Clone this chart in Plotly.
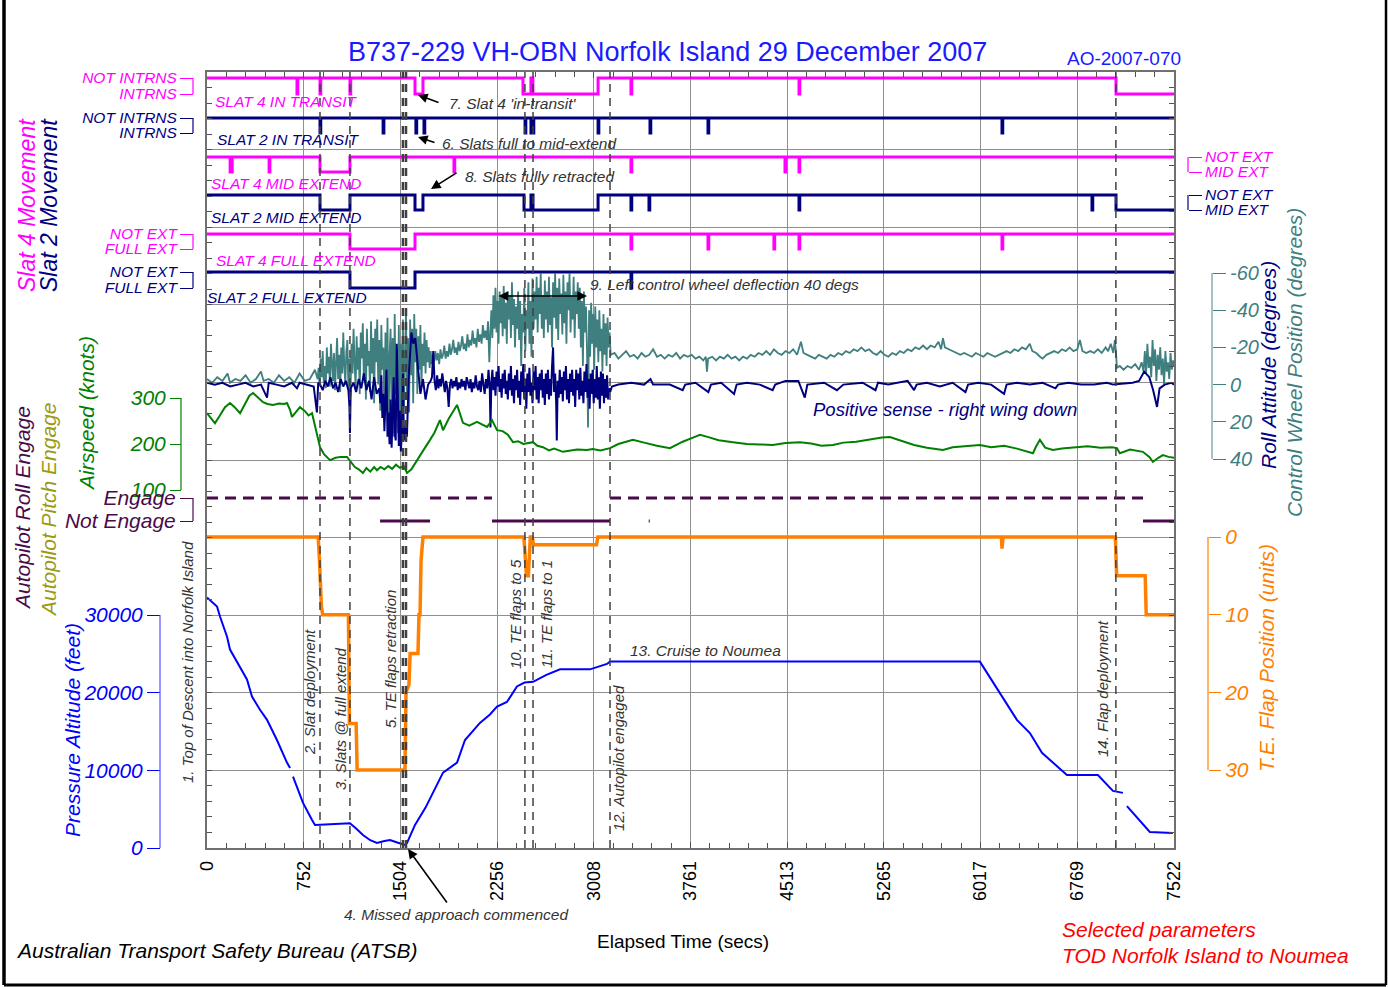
import plotly.graph_objects as go

# ---------------- data ----------------
x_tick_vals = [0, 752.2, 1504.4, 2256.6, 3008.8, 3761, 4513.2, 5265.4, 6017.6, 6769.8, 7522]
x_tick_text = ["0", "752", "1504", "2256", "3008", "3761", "4513", "5265", "6017", "6769", "7522"]

# slat discrete states: 1 = NOT (upper level), 0 = active (lower level); (time, state) step points
slat4_transit = [(0, 1), (700, 0), (706, 1), (879, 0), (885, 1), (1112, 0), (1118, 1), (1618, 0), (1680, 1),
                 (2458, 0), (2520, 1), (2535, 0), (3042, 1), (3298, 0), (3304, 1), (4605, 0), (4611, 1),
                 (7071, 0), (7522, 0)]
slat2_transit = [(0, 1), (879, 0), (885, 1), (1370, 0), (1376, 1), (1625, 0), (1631, 1), (1688, 0), (1694, 1),
                 (2474, 0), (2480, 1), (2520, 0), (2526, 1), (2536, 0), (2542, 1), (3042, 0), (3048, 1),
                 (3446, 0), (3452, 1), (3897, 0), (3903, 1), (6184, 0), (6190, 1), (7522, 1)]
slat4_mid = [(0, 1), (180, 0), (196, 1), (483, 0), (489, 1), (879, 0), (1112, 1), (1921, 0), (1927, 1),
             (3298, 0), (3304, 1), (4496, 0), (4502, 1), (4605, 0), (4611, 1), (7522, 1)]
slat2_mid = [(0, 1), (879, 0), (1112, 1), (1618, 0), (1680, 1), (2466, 0), (2520, 1), (2536, 0), (3042, 1),
             (3298, 0), (3304, 1), (3438, 0), (3444, 1), (4605, 0), (4611, 1), (6884, 0), (6890, 1),
             (7071, 0), (7522, 0)]
slat4_full = [(0, 1), (1112, 0), (1618, 1), (3298, 0), (3304, 1), (3897, 0), (3903, 1), (4410, 0), (4416, 1),
              (4605, 0), (4611, 1), (6184, 0), (6190, 1), (7522, 1)]
slat2_full = [(0, 1), (1112, 0), (1618, 1), (3298, 0), (3304, 1), (7522, 1)]

# control wheel position (deg, positive = right wing down)
control_wheel = [
    (0, -3), (40, -1), (80, -4), (120, -2), (160, -6), (180, -1), (220, -3), (260, -2), (300, -5), (340, -1),
    (380, -3), (420, -7), (440, -2), (480, -3), (520, -1), (560, -5), (600, -2), (640, -4), (680, -1),
    (720, -6), (760, -2), (800, -3), (840, -8), (860, -3), (868, -9), (876, 1), (884, -14), (892, -4),
    (900, -18), (908, -1), (916, -10), (924, 2), (932, -20), (940, -6), (948, -15), (956, 1), (964, -22),
    (972, -8), (980, -2), (988, -17), (996, 3), (1004, -12), (1012, -25), (1020, -3), (1028, -16), (1036, 4),
    (1044, -20), (1052, -6), (1060, -28), (1068, -10), (1076, 0), (1084, -18), (1092, -24), (1100, 3),
    (1108, -14), (1116, 6), (1124, -22), (1132, -6), (1140, -30), (1148, -12), (1156, 2), (1164, -26),
    (1172, -8), (1180, -20), (1188, 5), (1196, -28), (1204, -14), (1212, -33), (1220, -2), (1228, -22),
    (1236, 8), (1244, -30), (1252, -10), (1260, -18), (1268, 4), (1276, -34), (1284, -6), (1292, -25),
    (1300, 10), (1308, -30), (1316, -12), (1324, -35), (1332, 0), (1340, -24), (1348, 14), (1356, -32),
    (1364, -8), (1372, -20), (1380, 20), (1388, -28), (1396, 8), (1404, -36), (1412, 25), (1420, -15),
    (1428, -30), (1436, 18), (1444, -25), (1452, 28), (1460, -38), (1468, 5), (1476, -20), (1484, 26),
    (1492, -32), (1500, 15), (1508, -22), (1516, 30), (1524, -35), (1532, 12), (1540, -28), (1548, -40),
    (1556, 8), (1564, -25), (1572, 15), (1580, -35), (1588, -5), (1596, -30), (1604, 10), (1612, -38),
    (1620, -12), (1628, -30), (1636, 5), (1644, -26), (1652, -8), (1660, -32), (1668, 0), (1676, -22),
    (1684, -10), (1692, -28), (1700, -6), (1708, -24), (1716, -12), (1724, -20), (1732, -9), (1740, -18),
    (1748, -11), (1756, -16), (1766, -12), (1776, -18), (1786, -13), (1796, -17), (1806, -11), (1816, -19),
    (1826, -14), (1836, -16), (1846, -21), (1856, -14), (1866, -18), (1876, -15), (1886, -22), (1896, -16),
    (1906, -19), (1916, -24), (1926, -17), (1936, -20), (1946, -16), (1956, -23), (1966, -18), (1976, -21),
    (1986, -26), (1996, -19), (2006, -22), (2016, -18), (2026, -27), (2036, -20), (2046, -24), (2056, -21),
    (2066, -29), (2076, -22), (2086, -25), (2096, -20), (2106, -30), (2116, -23), (2126, -27), (2136, -22),
    (2146, -32), (2156, -25), (2166, -29), (2176, -24), (2186, -34), (2196, -12), (2204, -28), (2212, -40),
    (2220, -25), (2228, -48), (2236, -30), (2244, -52), (2252, -28), (2260, -45), (2268, -22), (2276, -50),
    (2284, -33), (2292, -47), (2300, -26), (2308, -53), (2316, -30), (2324, -44), (2332, -22), (2340, -50),
    (2348, -35), (2356, -48), (2364, -25), (2372, -55), (2380, -32), (2388, -46), (2396, -20), (2404, -42),
    (2412, -30), (2420, -50), (2428, -24), (2436, -45), (2444, -10), (2452, -38), (2460, -28), (2468, -52),
    (2476, -18), (2484, -40), (2492, -30), (2500, -55), (2508, -22), (2516, -45), (2524, -15), (2532, -57),
    (2540, -30), (2548, -50), (2556, -35), (2564, -58), (2572, -28), (2580, -52), (2588, -38), (2596, -60),
    (2604, -30), (2612, -48), (2620, -25), (2628, -56), (2636, -35), (2644, -50), (2652, -28), (2660, -58),
    (2668, -32), (2676, -47), (2684, -20), (2692, -55), (2700, -36), (2708, -60), (2716, -30), (2724, -52),
    (2732, -24), (2740, -57), (2748, -38), (2756, -49), (2764, -27), (2772, -59), (2780, -33), (2788, -50),
    (2796, -22), (2804, -55), (2812, -40), (2820, -60), (2828, -28), (2836, -48), (2844, -35), (2852, -58),
    (2860, -25), (2868, -50), (2876, -38), (2884, -55), (2892, -30), (2900, -52), (2908, -20), (2916, -45),
    (2924, -10), (2932, -50), (2940, -28), (2948, -42), (2956, -18), (2964, 23), (2972, -40), (2980, -15),
    (2988, -44), (2996, -22), (3004, -38), (3012, -8), (3020, -42), (3028, -20), (3036, -35), (3044, -12),
    (3052, -40), (3060, -18), (3068, -30), (3076, -7), (3084, -38), (3092, -16), (3100, -33), (3108, -10),
    (3116, -36), (3124, -20), (3132, -28), (3140, -16), (3170, -17), (3200, -14), (3230, -16), (3260, -18),
    (3290, -15), (3320, -16), (3350, -14), (3380, -17), (3410, -15), (3440, -16), (3470, -19), (3500, -15),
    (3530, -16), (3560, -14), (3590, -16), (3620, -15), (3650, -17), (3680, -14), (3710, -16), (3740, -15),
    (3770, -16), (3800, -14), (3830, -15), (3860, -13), (3880, -15), (3889, -7), (3898, -14), (3930, -15),
    (3960, -13), (3990, -15), (4020, -14), (4050, -16), (4080, -14), (4110, -15), (4140, -13), (4170, -15),
    (4200, -14), (4230, -16), (4260, -15), (4290, -17), (4320, -16), (4350, -18), (4380, -16), (4410, -19),
    (4440, -17), (4470, -16), (4500, -18), (4530, -17), (4560, -19), (4590, -16), (4620, -23), (4640, -17),
    (4670, -16), (4700, -15), (4730, -14), (4760, -16), (4790, -15), (4820, -14), (4850, -16), (4880, -15),
    (4910, -17), (4940, -16), (4970, -18), (5000, -17), (5030, -19), (5060, -18), (5090, -20), (5120, -18),
    (5150, -19), (5180, -17), (5210, -16), (5240, -18), (5270, -16), (5300, -15), (5330, -17), (5360, -16),
    (5390, -18), (5420, -17), (5450, -19), (5480, -18), (5510, -20), (5540, -19), (5570, -21), (5600, -19),
    (5630, -21), (5660, -20), (5690, -23), (5710, -19), (5725, -25), (5740, -20), (5770, -19), (5800, -18),
    (5830, -17), (5860, -16), (5890, -17), (5920, -16), (5950, -15), (5980, -17), (6010, -16), (6040, -15),
    (6070, -17), (6100, -16), (6130, -15), (6160, -16), (6190, -17), (6220, -18), (6250, -17), (6280, -19),
    (6310, -18), (6340, -20), (6370, -19), (6400, -22), (6420, -18), (6450, -17), (6480, -15), (6500, -14),
    (6530, -16), (6560, -17), (6590, -18), (6620, -17), (6650, -19), (6680, -18), (6710, -20), (6740, -18),
    (6770, -19), (6790, -24), (6810, -18), (6840, -17), (6870, -18), (6900, -17), (6930, -19), (6960, -17),
    (6990, -20), (7010, -18), (7030, -22), (7050, -17), (7062, -24), (7070, -18), (7078, -9), (7100, -10),
    (7130, -8), (7160, -10), (7190, -9), (7220, -11), (7250, -8), (7270, -12), (7285, -7), (7295, -18),
    (7305, -6), (7315, -22), (7325, -9), (7335, -15), (7345, -4), (7355, -24), (7365, -10), (7375, -19),
    (7385, -2), (7395, -16), (7405, -8), (7415, -20), (7425, -5), (7435, -14), (7445, 0), (7455, -18),
    (7465, -7), (7475, -12), (7485, -3), (7495, -17), (7505, -8), (7515, -13), (7522, -10)]

# roll attitude (deg, positive = right wing down)
roll_attitude = [
    (0, -1), (60, 0), (120, -1), (180, 1), (240, 0), (300, -1), (360, 1), (420, 0), (467, 7), (480, -1),
    (540, 0), (600, 1), (660, -1), (700, 2), (720, -1), (780, 0), (830, 1), (855, 15), (865, -1), (880, 0),
    (900, 3), (920, -2), (940, 1), (960, -4), (980, 2), (1000, -1), (1020, 4), (1040, -3), (1060, 1),
    (1080, -2), (1100, 3), (1108, 12), (1112, 26), (1118, 2), (1140, -1), (1160, 4), (1180, -3), (1200, 2),
    (1220, -6), (1240, 3), (1260, -2), (1280, 8), (1300, -4), (1320, 5), (1340, 2), (1348, 10), (1356, -5),
    (1364, 18), (1372, 5), (1380, 25), (1388, 12), (1396, -8), (1404, 28), (1412, 15), (1420, 32), (1428, 8),
    (1436, 34), (1444, 18), (1452, -4), (1460, 26), (1468, 30), (1476, -22), (1484, 20), (1492, 33),
    (1500, 14), (1508, 36), (1516, 25), (1524, -6), (1532, 30), (1540, 27), (1548, 22), (1555, 28),
    (1570, -5), (1590, -28), (1605, -22), (1620, -25), (1640, -10), (1660, 5), (1680, -3), (1700, 8),
    (1720, 0), (1740, -2), (1750, -4), (1760, -18), (1770, -2), (1780, 3), (1790, -5), (1800, 2), (1810, -3),
    (1820, 1), (1830, -6), (1840, 0), (1850, 4), (1860, -2), (1870, 2), (1880, 12), (1890, 0), (1900, -3),
    (1910, 2), (1920, -2), (1930, 1), (1940, -4), (1950, 3), (1960, -1), (1970, 2), (1980, -3), (1990, 1),
    (2000, -2), (2010, 3), (2020, -4), (2030, 0), (2040, 2), (2050, -3), (2060, 4), (2070, -1), (2080, 2),
    (2090, -5), (2100, 1), (2110, 3), (2120, -2), (2130, 4), (2140, -6), (2150, 0), (2160, 5), (2170, -3),
    (2180, 2), (2190, -8), (2200, 3), (2205, 23), (2212, -1), (2220, -8), (2228, 3), (2236, -4), (2244, 6),
    (2252, -7), (2260, 1), (2268, -10), (2276, 4), (2284, -3), (2292, 7), (2300, -6), (2308, 2), (2316, -8),
    (2324, 5), (2332, -2), (2340, 8), (2348, -6), (2356, 3), (2364, -10), (2372, 6), (2380, -3), (2388, 10),
    (2396, -5), (2404, 3), (2412, -8), (2420, 7), (2428, -2), (2436, 11), (2444, -7), (2452, 4), (2460, -11),
    (2468, 8), (2476, -3), (2484, 13), (2492, -6), (2500, 4), (2508, -9), (2516, 6), (2524, -1), (2532, 10),
    (2540, -7), (2548, 3), (2556, -10), (2564, 8), (2572, -4), (2580, 10), (2588, -6), (2596, 3),
    (2604, -8), (2612, 7), (2620, -3), (2628, 11), (2636, -6), (2644, 5), (2652, -8), (2660, 8), (2668, -3),
    (2676, 6), (2684, -10), (2692, -20), (2700, 4), (2708, -6), (2716, 10), (2721, 30), (2728, -2),
    (2736, 7), (2744, -8), (2752, 5), (2760, -4), (2768, 9), (2776, -7), (2784, 3), (2792, -10), (2800, 8),
    (2808, -3), (2816, 10), (2824, -6), (2832, 4), (2840, -8), (2848, 6), (2856, -3), (2864, 12),
    (2872, -8), (2880, 3), (2888, -6), (2896, 8), (2904, -9), (2912, 6), (2920, -2), (2928, 10), (2936, -7),
    (2944, 4), (2952, -11), (2960, 7), (2968, -3), (2976, 13), (2984, -6), (2992, 5), (3000, -8),
    (3008, 10), (3016, -3), (3024, 7), (3032, -10), (3040, 8), (3048, -4), (3056, 13), (3064, -7),
    (3072, 6), (3080, -6), (3088, 10), (3096, -3), (3104, 7), (3112, -5), (3120, 8), (3128, 2), (3136, 4),
    (3150, 1), (3200, 0), (3300, -1), (3400, 0), (3450, -3), (3470, 0), (3600, 0), (3700, 3), (3720, 0),
    (3800, -1), (3900, 4), (3920, 0), (4000, -1), (4100, 5), (4120, 0), (4200, -1), (4300, 0), (4400, 3),
    (4420, 0), (4500, -2), (4600, -2), (4650, 7), (4670, 0), (4800, -1), (4900, 3), (4950, 0), (5100, -1),
    (5200, 3), (5220, -1), (5300, 0), (5450, -2), (5500, 3), (5520, 0), (5600, -1), (5700, 1), (5800, -1),
    (5900, 4), (5920, 0), (6000, -1), (6100, 0), (6200, 5), (6220, 0), (6300, -1), (6400, 0), (6500, -1),
    (6600, 2), (6620, 0), (6700, -1), (6800, 0), (6900, 0), (7000, -1), (7050, 0), (7200, -1), (7250, -2),
    (7290, -7), (7330, -4), (7360, 3), (7390, 12), (7410, 2), (7450, 0), (7500, -1), (7522, 0)]

# airspeed (knots)
airspeed = [(0, 267), (30, 255), (62, 245), (100, 262), (140, 280), (179, 289), (215, 280), (257, 267),
            (300, 290), (330, 305), (358, 311), (400, 300), (436, 291), (470, 287), (513, 285), (560, 288),
            (600, 287), (622, 289), (645, 275), (661, 259), (690, 268), (723, 280), (760, 272), (790, 262),
            (817, 267), (840, 240), (860, 210), (879, 193), (910, 178), (957, 165), (1000, 170), (1040, 172),
            (1089, 172), (1120, 160), (1150, 150), (1180, 145), (1213, 137), (1240, 148), (1270, 140),
            (1300, 150), (1322, 143), (1350, 150), (1380, 145), (1410, 152), (1440, 146), (1470, 155),
            (1501, 148), (1530, 152), (1556, 137), (1590, 145), (1633, 165), (1680, 185), (1735, 209),
            (1770, 225), (1812, 252), (1836, 230), (1880, 255), (1945, 285), (1991, 246), (2040, 240),
            (2100, 248), (2140, 242), (2178, 237), (2217, 252), (2256, 230), (2300, 228), (2340, 220),
            (2380, 204), (2420, 206), (2460, 200), (2489, 202), (2536, 204), (2570, 196), (2613, 193),
            (2660, 186), (2700, 190), (2769, 183), (2820, 185), (2880, 188), (2956, 187), (3000, 189),
            (3060, 186), (3135, 191), (3200, 200), (3260, 205), (3313, 209), (3400, 203), (3500, 196),
            (3601, 191), (3700, 205), (3780, 214), (3835, 220), (3900, 215), (3980, 208), (4091, 204),
            (4200, 200), (4300, 199), (4402, 198), (4500, 202), (4612, 204), (4700, 201), (4780, 196),
            (4869, 198), (4950, 203), (5050, 205), (5150, 210), (5250, 214), (5312, 215), (5400, 207),
            (5500, 198), (5600, 192), (5725, 187), (5800, 193), (5900, 195), (6012, 198), (6100, 193),
            (6200, 196), (6300, 190), (6425, 180), (6450, 195), (6479, 209), (6520, 192), (6580, 187),
            (6650, 190), (6767, 193), (6850, 195), (6950, 192), (7040, 193), (7078, 191), (7101, 180),
            (7180, 188), (7280, 183), (7330, 172), (7358, 161), (7400, 170), (7436, 176), (7480, 172),
            (7522, 170)]

# autopilot roll engage: (start, end, state) 1 = Engage, 0 = Not Engage
autopilot = [(0, 1346, 1), (1346, 1735, 0), (1735, 2217, 1), (2217, 3135, 0), (3135, 7281, 1),
             (3436, 3444, 0), (7281, 7522, 0)]

# trailing edge flap position (units)
flap = [(0, 0), (865, 0), (875, 3), (890, 9), (900, 10), (1100, 10), (1108, 24), (1160, 24), (1168, 30),
        (1540, 30), (1548, 20), (1571, 19), (1580, 15), (1641, 15), (1649, 10), (1657, 10), (1665, 3),
        (1680, 0), (2465, 0), (2485, 5), (2500, 5), (2515, 0), (2530, 0), (2540, 1), (3030, 1), (3040, 0),
        (6180, 0), (6184, 1.5), (6192, 0), (7066, 0), (7076, 5), (7298, 5), (7306, 10), (7522, 10)]

# pressure altitude (feet); None marks data gaps
altitude = [(0, 32260), (78, 31100), (101, 29800), (156, 27200), (179, 25550), (257, 23350), (311, 21700),
            (350, 19500), (412, 17800), (467, 16500), (544, 13900), (622, 11000), (646, 10300), (655, None),
            (669, 9200), (747, 5800), (817, 3600), (840, 2970), (879, 3000), (1112, 3200), (1160, 2500),
            (1213, 1680), (1270, 1000), (1322, 650), (1380, 900), (1423, 1030), (1480, 700), (1540, 390),
            (1556, 650), (1618, 2970), (1700, 5200), (1758, 7100), (1836, 9700), (1945, 11000),
            (2007, 13900), (2123, 16100), (2201, 17200), (2256, 18200), (2333, 18800), (2411, 20800),
            (2470, 21300), (2536, 21400), (2640, 22300), (2746, 23000), (2979, 23000), (3111, 23700),
            (3135, 24000), (6012, 24000), (6168, 20000), (6300, 16500), (6401, 14800), (6495, 12250),
            (6689, 9400), (6930, 9400), (7047, 7350), (7125, 7100), (7140, None), (7156, 5400),
            (7334, 2060), (7513, 1930)]

# event marker times (secs)
event_times = [879, 1112, 1524, 1548, 2473, 2536, 3135, 7070]
event_widths = [1.5, 1.5, 2.5, 2.5, 1.5, 1.5, 1.5, 1.5]

# ---------------- geometry helpers ----------------
W, H = 1388, 987
L, R, T, B = 207, 1174, 72, 848
FONT = "Liberation Sans, Arial, sans-serif"

MAG = "#ff00ff"
NAVY = "#00007f"
TEAL = "#3f7f7f"
GREEN = "#008000"
ORANGE = "#ff8000"
BLUE = "#0000ff"
PURPLE = "#4a0a4a"
OLIVE = "#9a9a10"
GRAY = "#333333"


def px(x):
    return x / W


def py(y):
    return 1 - y / H


DOMAIN = [py(B), py(T)]


def rng(v1, p1, v2, p2):
    k = (v2 - v1) / (p2 - p1)
    return [v1 + (B - p1) * k, v1 + (T - p1) * k]


def unzip(pairs):
    return [p[0] for p in pairs], [p[1] for p in pairs]


fig = go.Figure()

# invisible anchor trace for the main grid subplot
fig.add_trace(go.Scatter(x=[0, 7522], y=[0, 10], mode="markers", marker=dict(opacity=0),
                         hoverinfo="skip"))
# control wheel & roll
t, v = unzip(control_wheel)
fig.add_trace(go.Scatter(x=t, y=v, yaxis="y8", mode="lines", line=dict(color=TEAL, width=1.8)))
t, v = unzip(roll_attitude)
fig.add_trace(go.Scatter(x=t, y=v, yaxis="y8", mode="lines", line=dict(color=NAVY, width=2)))
# airspeed
t, v = unzip(airspeed)
fig.add_trace(go.Scatter(x=t, y=v, yaxis="y9", mode="lines", line=dict(color=GREEN, width=2)))
# autopilot
for state, dash in ((1, "11px,7px"), (0, "solid")):
    xs, ys = [], []
    for s, e, st in autopilot:
        if st == state:
            xs += [s, e, None]
            ys += [st, st, None]
    fig.add_trace(go.Scatter(x=xs, y=ys, yaxis="y10", mode="lines",
                             line=dict(color=PURPLE, width=3, dash=dash)))
# flap
t, v = unzip(flap)
fig.add_trace(go.Scatter(x=t, y=v, yaxis="y11", mode="lines", line=dict(color=ORANGE, width=3.5)))
# altitude
t, v = unzip(altitude)
fig.add_trace(go.Scatter(x=t, y=v, yaxis="y12", mode="lines", line=dict(color=BLUE, width=2),
                         connectgaps=False))
# slats
slats = [(slat4_transit, "y2", MAG), (slat2_transit, "y3", NAVY), (slat4_mid, "y4", MAG),
         (slat2_mid, "y5", NAVY), (slat4_full, "y6", MAG), (slat2_full, "y7", NAVY)]
for data, ax, col in slats:
    t, v = unzip(data)
    fig.add_trace(go.Scatter(x=t, y=v, yaxis=ax, mode="lines", line=dict(color=col, width=3, shape="hv")))


def it(s):
    return "<i>" + s + "</i>"


def side_axis(rg, pos, side, vals, text, col, ticklen, size):
    return dict(overlaying="y", anchor="free", position=px(pos), side=side, range=rg, domain=DOMAIN,
                showgrid=False, zeroline=False, showline=False, tickmode="array",
                tickvals=vals, ticktext=[it(s) for s in text], ticks="outside", ticklen=ticklen,
                tickcolor=col, tickwidth=1, tickfont=dict(color=col, size=size, family=FONT))


layout = dict(
    width=W, height=H, margin=dict(l=0, r=0, t=0, b=0), template="none",
    paper_bgcolor="white", plot_bgcolor="white", showlegend=False,
    font=dict(family=FONT, color="black"),
    xaxis=dict(domain=[px(L), px(R)], range=[0, 7522], anchor="y", tickmode="array",
               tickvals=x_tick_vals, ticktext=x_tick_text, tickangle=-90, ticks="inside", ticklen=6,
               tickcolor="#505050", showgrid=True, gridcolor="#8f8f8f", gridwidth=1, zeroline=False,
               showline=True, linecolor="#707070", linewidth=1.5, mirror="ticks",
               tickfont=dict(size=18, color="black", family=FONT), ticklabelstandoff=4,
               minor=dict(tickmode="linear", tick0=0, dtick=150.44, ticks="inside", ticklen=5,
                          tickcolor="#505050", showgrid=False)),
    yaxis=dict(domain=DOMAIN, range=[0, 10], tickmode="linear", tick0=0, dtick=1,
               showticklabels=False, ticks="inside", ticklen=5, tickcolor="#505050", showgrid=True,
               gridcolor="#8f8f8f", gridwidth=1,
               zeroline=False, showline=True, linecolor="#707070", linewidth=1.5, mirror="ticks",
               minor=dict(tickmode="linear", tick0=0, dtick=0.2, ticks="inside", ticklen=5,
                          tickcolor="#505050", showgrid=False)),
    yaxis2=side_axis(rng(1, 78, 0, 94), 193, "left", [1, 0], ["NOT INTRNS", "INTRNS"], MAG, 13, 15.5),
    yaxis3=side_axis(rng(1, 118, 0, 133), 193, "left", [1, 0], ["NOT INTRNS", "INTRNS"], NAVY, 13, 15.5),
    yaxis4=side_axis(rng(1, 157, 0, 172), 1188, "right", [1, 0], ["NOT EXT", "MID EXT"], MAG, 13, 15.5),
    yaxis5=side_axis(rng(1, 195, 0, 210), 1188, "right", [1, 0], ["NOT EXT", "MID EXT"], NAVY, 13, 15.5),
    yaxis6=side_axis(rng(1, 234, 0, 249), 193, "left", [1, 0], ["NOT EXT", "FULL EXT"], MAG, 13, 15.5),
    yaxis7=side_axis(rng(1, 272, 0, 288), 193, "left", [1, 0], ["NOT EXT", "FULL EXT"], NAVY, 13, 15.5),
    yaxis8=side_axis(rng(-60, 273, 40, 459), 1212, "right", [-60, -40, -20, 0, 20, 40],
                     ["-60", "-40", "-20", "0", "20", "40"], TEAL, 13, 20),
    yaxis9=side_axis(rng(300, 398, 100, 490), 181, "left", [100, 200, 300], ["100", "200", "300"],
                     GREEN, 11, 21),
    yaxis10=side_axis(rng(1, 498, 0, 521), 193, "left", [1, 0], ["Engage", "Not Engage"], PURPLE, 13, 21),
    yaxis11=side_axis(rng(0, 537, 30, 770), 1208, "right", [0, 10, 20, 30], ["0", "10", "20", "30"],
                      ORANGE, 12, 21),
    yaxis12=side_axis(rng(0, 848, 30000, 615), 160, "left", [0, 10000, 20000, 30000],
                      ["0", "10000", "20000", "30000"], BLUE, 13, 21),
)
fig.update_layout(**layout)

shapes = []
# bracket lines of the side axes
brackets = [("y2", 193, 0, 1, MAG), ("y3", 193, 0, 1, NAVY), ("y4", 1188, 0, 1, MAG),
            ("y5", 1188, 0, 1, NAVY), ("y6", 193, 0, 1, MAG), ("y7", 193, 0, 1, NAVY),
            ("y8", 1212, -60, 40, "#6a9a9a"), ("y9", 181, 100, 300, GREEN), ("y10", 193, 0, 1, PURPLE),
            ("y11", 1208, 0, 30, ORANGE), ("y12", 160, 0, 30000, "#5555ff")]
for ax, xpos, a, b, col in brackets:
    shapes.append(dict(type="line", xref="paper", yref=ax, x0=px(xpos), x1=px(xpos), y0=a, y1=b,
                       line=dict(color=col, width=1.2)))
# event lines
for et, w in zip(event_times, event_widths):
    shapes.append(dict(type="line", xref="x", yref="paper", x0=et, x1=et, y0=py(B), y1=py(T),
                       line=dict(color="#404040", width=w, dash="8px,6px")))
# outer border (left, bottom, right)
for x0, y0, x1, y1, w in ((4, 0, 4, 985, 3.5), (4, 985, 1386, 985, 3), (1386, 0, 1386, 985, 2.5)):
    shapes.append(dict(type="line", xref="paper", yref="paper", x0=px(x0), x1=px(x1), y0=py(y0),
                       y1=py(y1), line=dict(color="black", width=w)))
fig.update_layout(shapes=shapes)

ann = []


def text(x, y, s, col=GRAY, size=15.5, xanchor="left", angle=0, italic=True):
    ann.append(dict(x=px(x), y=py(y), xref="paper", yref="paper", text=it(s) if italic else s,
                    showarrow=False, xanchor=xanchor, yanchor="middle", textangle=angle,
                    font=dict(color=col, size=size, family=FONT)))


def arrow(x0, y0, x1, y1, both=False):
    ann.append(dict(x=px(x1), y=py(y1), xref="paper", yref="paper", ax=x0 - x1, ay=y0 - y1, text="",
                    showarrow=True, arrowhead=2, arrowsize=1.2, arrowwidth=1.6, arrowcolor="black",
                    arrowside="end+start" if both else "end"))


text(667, 52, "B737-229 VH-OBN Norfolk Island 29 December 2007", "#1a1aff", 27, "center", italic=False)
text(1065, 59, "AO-2007-070", "#1a1aff", 19, italic=False)

text(213, 102, "SLAT 4 IN TRANSIT", MAG, 15.5)
text(215, 140, "SLAT 2 IN TRANSIT", NAVY, 15.5)
text(209, 184, "SLAT 4 MID EXTEND", MAG, 15.5)
text(209, 218, "SLAT 2 MID EXTEND", NAVY, 15.5)
text(214, 260, "SLAT 4 FULL EXTEND", MAG, 15.5)
text(205, 297, "SLAT 2 FULL EXTEND", NAVY, 15.5)

text(447, 104, "7. Slat 4 'in-transit'")
arrow(440, 103, 418, 95)
text(440, 143, "6. Slats full to mid-extend")
arrow(436, 143, 418, 137)
text(463, 176, "8. Slats fully retracted")
arrow(458, 172, 431, 189)
text(588, 284, "9. Left control wheel deflection 40 degs")
arrow(497, 296, 587, 296, both=True)
text(811, 409, "Positive sense - right wing down", NAVY, 18.5)
text(628, 650, "13. Cruise to Noumea")
text(342, 914, "4. Missed approach commenced")
arrow(448, 904, 408, 849)

text(187, 662, "1. Top of Descent into Norfolk Island", size=15, xanchor="center", angle=-90)
text(309, 692, "2. Slat deployment", size=15, xanchor="center", angle=-90)
text(340, 719, "3. Slats @ full extend", size=15, xanchor="center", angle=-90)
text(390, 659, "5. TE flaps retraction", size=15, xanchor="center", angle=-90)
text(515, 614, "10. TE flaps to 5", size=15, xanchor="center", angle=-90)
text(546, 614, "11. TE flaps to 1", size=15, xanchor="center", angle=-90)
text(618, 758, "12. Autopilot engaged", size=15, xanchor="center", angle=-90)
text(1102, 689, "14. Flap deployment", size=15, xanchor="center", angle=-90)

text(27, 205, "Slat 4 Movement", MAG, 23, "center", -90)
text(49, 205, "Slat 2 Movement", NAVY, 23, "center", -90)
text(22, 508, "Autopilot Roll Engage", PURPLE, 21, "center", -90)
text(48, 510, "Autopilot Pitch Engage", OLIVE, 21, "center", -90)
text(86, 414, "Airspeed (knots)", GREEN, 21, "center", -90)
text(72, 730, "Pressure Altitude (feet)", BLUE, 21, "center", -90)
text(1268, 365, "Roll Attitude (degrees)", NAVY, 21, "center", -90)
text(1294, 363, "Control Wheel Position (degrees)", TEAL, 21, "center", -90)
text(1266, 658, "T.E. Flap Position (units)", ORANGE, 21, "center", -90)

text(14, 950, "Australian Transport Safety Bureau (ATSB)", "black", 21)
text(683, 941, "Elapsed Time (secs)", "black", 19, "center", italic=False)
text(1060, 929, "Selected parameters", "red", 21)
text(1060, 955, "TOD Norfolk Island to Noumea", "red", 21)

fig.update_layout(annotations=ann)
fig.write_html("out.html", config={"displayModeBar": False},
               post_script="document.body.style.margin='0';")
